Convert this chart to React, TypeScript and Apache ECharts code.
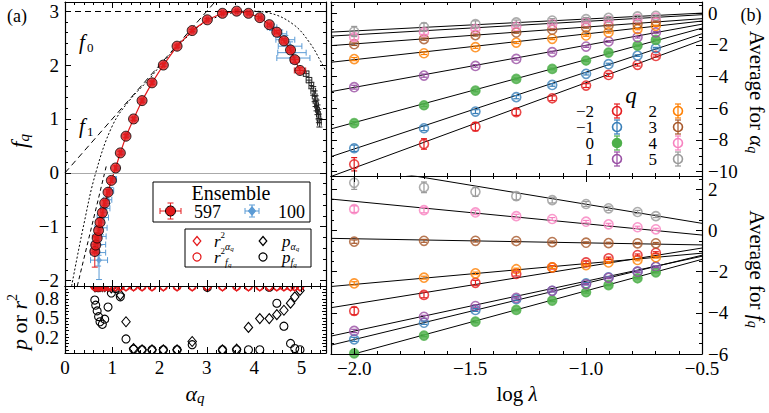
import React, { useEffect, useRef } from 'react';
import * as echarts from 'echarts';

const SERIF = "'Liberation Serif', 'Times New Roman', serif";

// ---------- Panel (a): singularity spectrum f(alpha) ----------
// Ensemble of 597 records
const alpha597 = [0.63, 0.65, 0.68, 0.71, 0.74, 0.79, 0.84, 0.91, 0.98, 1.07, 1.17, 1.29, 1.45, 1.63, 1.84, 2.08, 2.37, 2.69, 3.01, 3.33, 3.63, 3.88, 4.12, 4.32, 4.48, 4.63, 4.77, 4.86, 4.97];
const f597 = [-1.46, -1.34, -1.21, -1.07, -0.92, -0.74, -0.56, -0.36, -0.14, 0.09, 0.37, 0.68, 1.0, 1.34, 1.67, 2.0, 2.35, 2.64, 2.84, 2.96, 3.0, 2.96, 2.88, 2.75, 2.61, 2.45, 2.28, 2.1, 1.9];
const alphaErr597 = [0.04, 0.04, 0.03, 0.03, 0.03, 0.03, 0.03, 0.03, 0.02, 0.02, 0.02, 0.02, 0.02, 0.02, 0.02, 0.02, 0.02, 0.02, 0.02, 0.02, 0.02, 0.03, 0.03, 0.04, 0.05, 0.06, 0.07, 0.09, 0.12];
const fErr597 = [0.29, 0.15, 0.1, 0.08, 0.07, 0.06, 0.05, 0.05, 0.04, 0.04, 0.03, 0.03, 0.03, 0.03, 0.03, 0.03, 0.02, 0.02, 0.02, 0.02, 0.02, 0.02, 0.02, 0.03, 0.03, 0.04, 0.04, 0.05, 0.05];

// Ensemble of 100 records
const alpha100 = [0.72, 0.7, 0.71, 0.73, 0.76, 0.8, 0.85, 0.9, 0.96, 1.03, 1.1, 1.19, 1.31, 1.46, 1.64, 1.85, 2.09, 2.38, 2.7, 3.02, 3.34, 3.64, 3.9, 4.15, 4.38, 4.55, 4.66, 4.76, 4.8, 4.83];
const f100 = [-1.62, -1.48, -1.33, -1.18, -1.02, -0.83, -0.66, -0.5, -0.33, -0.12, 0.08, 0.37, 0.7, 1.0, 1.34, 1.68, 2.01, 2.35, 2.64, 2.84, 2.96, 3.0, 2.96, 2.88, 2.7, 2.58, 2.47, 2.35, 2.23, 2.13];
const alphaErr100 = [0.18, 0.16, 0.15, 0.14, 0.13, 0.12, 0.1, 0.09, 0.07, 0.06, 0.05, 0.04, 0.03, 0.03, 0.02, 0.02, 0.02, 0.02, 0.02, 0.02, 0.02, 0.03, 0.04, 0.06, 0.1, 0.14, 0.2, 0.25, 0.3, 0.35];
const fErr100 = [0.36, 0.25, 0.2, 0.16, 0.13, 0.1, 0.08, 0.07, 0.06, 0.05, 0.04, 0.04, 0.03, 0.03, 0.03, 0.03, 0.03, 0.03, 0.03, 0.03, 0.03, 0.03, 0.04, 0.05, 0.06, 0.07, 0.08, 0.08, 0.09, 0.1];

// Large-q tail of the spectrum
const alphaTail = [5.1, 5.16, 5.21, 5.25, 5.28, 5.3, 5.32, 5.34, 5.36, 5.37, 5.38];
const fTail = [1.84, 1.72, 1.62, 1.52, 1.42, 1.33, 1.25, 1.17, 1.09, 1.01, 0.93];
const alphaErrTail = [0.06, 0.06, 0.05, 0.05, 0.05, 0.05, 0.04, 0.04, 0.04, 0.04, 0.04];
const fErrTail = [0.05, 0.05, 0.06, 0.08, 0.1, 0.1, 0.1, 0.09, 0.09, 0.08, 0.08];

// Reference curves
const f0Level = 3;
const f1Tangent = [[0, 0], [3.3, 3.3]];
const modelSpectrum = [[0.14, -2.1], [0.4, -0.95], [0.65, 0], [1.0, 0.87], [1.36, 1.34], [1.78, 1.74], [2.1, 2.08], [2.5, 2.45], [2.9, 2.76], [3.4, 2.94], [3.9, 3.0], [4.3, 2.97], [4.82, 2.76], [5.17, 2.42], [5.42, 2.05], [5.52, 1.88]];
const steepTangent = [[0.26, -2.1], [0.88, 0.15]];

// Goodness of fit of the scaling regressions (same alpha positions as the 597 ensemble)
const r2Alpha = [0.998, 0.997, 0.998, 0.998, 0.997, 0.998, 0.998, 0.997, 0.998, 0.998, 0.997, 0.998, 0.998, 0.998, 0.998, 0.998, 0.998, 0.998, 0.998, 0.998, 0.998, 0.997, 0.998, 0.998, 0.997, 0.998, 0.997, 0.998, 0.997];
const r2F = [0.995, 0.996, 0.995, 0.996, 0.995, 0.996, 0.995, 0.996, 0.995, 0.996, 0.995, 0.996, 0.995, 0.996, 0.995, 0.996, 0.995, 0.996, 0.995, 0.996, 0.995, 0.996, 0.995, 0.996, 0.995, 0.996, 0.995, 0.996, 0.995];
const pAlpha = [0.99, 0.99, 0.99, 0.99, 0.99, 0.99, 0.99, 0.99, 0.97, 0.99, 0.86, 0.44, 0.02, 0.0, 0.0, 0.0, 0.0, 0.13, 0.99, 0.0, 0.01, 0.35, 0.49, 0.49, 0.55, 0.62, 0.73, 0.83, 0.93];
const pF = [0.78, 0.7, 0.61, 0.52, 0.44, 0.4, 0.48, 0.67, 0.89, 0.96, 0.83, 0.17, 0.01, 0.0, 0.0, 0.0, 0.0, 0.08, 0.98, 0.0, 0.0, 0.0, 0.0, 0.98, 0.73, 0.37, 0.1, 0.02, 0.0];

// ---------- Panel (b): averages versus log lambda ----------
const qValues = [-2, -1, 0, 1, 2, 3, 4, 5];
const qColors = ['#e41a1c', '#377eb8', '#4daf4a', '#984ea3', '#ff7f00', '#a65628', '#f781bf', '#999999'];
const logLambda = [-2.0, -1.699, -1.477, -1.301, -1.146, -1.0, -0.903, -0.778, -0.699];
const fitRange = [-2.1, -0.5];

const alphaAvg = [
  [-9.53, -8.25, -7.16, -6.25, -5.37, -4.57, -3.9, -3.26, -2.7],
  [-8.52, -7.26, -6.21, -5.3, -4.53, -3.83, -3.22, -2.68, -2.21],
  [-6.94, -5.81, -4.89, -4.15, -3.52, -2.99, -2.49, -2.05, -1.69],
  [-4.67, -3.94, -3.33, -2.89, -2.46, -2.11, -1.79, -1.52, -1.22],
  [-2.9, -2.53, -2.15, -1.86, -1.62, -1.41, -1.22, -1.01, -0.8],
  [-1.96, -1.64, -1.39, -1.22, -1.05, -0.91, -0.78, -0.68, -0.55],
  [-1.52, -1.2, -0.99, -0.85, -0.69, -0.57, -0.47, -0.36, -0.28],
  [-1.16, -0.88, -0.69, -0.59, -0.47, -0.38, -0.3, -0.21, -0.17],
];
const alphaAvgErr = [
  [0.42, 0.33, 0.26, 0.2, 0.15, 0.12, 0.1, 0.08, 0.07],
  [0.2, 0.15, 0.12, 0.1, 0.08, 0.07, 0.06, 0.05, 0.05],
  [0.1, 0.08, 0.07, 0.06, 0.05, 0.05, 0.04, 0.04, 0.04],
  [0.12, 0.1, 0.08, 0.07, 0.06, 0.05, 0.05, 0.05, 0.05],
  [0.1, 0.08, 0.07, 0.06, 0.05, 0.05, 0.04, 0.04, 0.04],
  [0.08, 0.07, 0.06, 0.05, 0.05, 0.04, 0.04, 0.04, 0.04],
  [0.18, 0.14, 0.1, 0.08, 0.07, 0.06, 0.05, 0.05, 0.05],
  [0.32, 0.25, 0.2, 0.15, 0.12, 0.1, 0.08, 0.06, 0.05],
];
// regression line values at the two ends of fitRange
const alphaFitEnds = [
  [-10.3, -1.7], [-9.05, -1.3], [-7.3, -0.95], [-4.95, -0.7],
  [-3.1, -0.5], [-2.05, -0.35], [-1.45, -0.1], [-1.2, 0.0],
];

const fAvg = [
  [-3.91, -3.13, -2.54, -2.11, -1.79, -1.55, -1.35, -1.19, -1.08],
  [-5.29, -4.48, -3.86, -3.33, -2.93, -2.57, -2.27, -2.0, -1.76],
  [-5.97, -5.11, -4.43, -3.86, -3.41, -3.0, -2.65, -2.32, -2.03],
  [-4.88, -4.19, -3.67, -3.27, -2.93, -2.61, -2.3, -2.0, -1.76],
  [-2.57, -2.29, -2.08, -1.88, -1.79, -1.68, -1.55, -1.43, -1.3],
  [-0.54, -0.5, -0.5, -0.51, -0.56, -0.59, -0.61, -0.62, -0.62],
  [1.04, 0.99, 0.88, 0.7, 0.56, 0.43, 0.3, 0.16, 0.06],
  [2.32, 2.1, 1.88, 1.67, 1.48, 1.29, 1.08, 0.9, 0.7],
];
const fAvgErr = [
  [0.18, 0.14, 0.12, 0.1, 0.08, 0.07, 0.06, 0.05, 0.05],
  [0.1, 0.08, 0.07, 0.06, 0.05, 0.05, 0.04, 0.04, 0.04],
  [0.06, 0.05, 0.05, 0.04, 0.04, 0.04, 0.03, 0.03, 0.03],
  [0.08, 0.07, 0.06, 0.05, 0.05, 0.04, 0.04, 0.04, 0.04],
  [0.08, 0.07, 0.06, 0.05, 0.05, 0.04, 0.04, 0.04, 0.04],
  [0.08, 0.07, 0.06, 0.05, 0.05, 0.04, 0.04, 0.04, 0.04],
  [0.16, 0.13, 0.11, 0.09, 0.07, 0.06, 0.05, 0.05, 0.05],
  [0.32, 0.26, 0.22, 0.18, 0.14, 0.12, 0.1, 0.08, 0.07],
];
const fFitEnds = [
  [-3.75, -0.85], [-5.57, -1.2], [-6.3, -1.4], [-5.13, -1.25],
  [-2.72, -1.1], [-0.38, -0.7], [1.53, -0.22], [3.32, 0.35],
];

// ---------- helpers ----------
const RED = '#e41a1c';
const BLUE = '#5b9bd5';

type AxisSpec = { min: number; max: number; major: number; minor: number; dec: number; labels?: number[]; tick?: number };

const fmtNum = (v: number, dec: number) => (v < -1e-9 ? '\u2212' : '') + Math.abs(v).toFixed(dec);
const onStep = (v: number, step: number) => Math.abs(v / step - Math.round(v / step)) < 1e-6;

function axisSet(grid: number, a: AxisSpec, sides: string[], labelSide: string | null, margin: number) {
  const out: any[] = [];
  for (const pos of sides) {
    const common = {
      type: 'value', gridIndex: grid, position: pos, min: a.min, max: a.max,
      splitNumber: 5, splitLine: { show: false }, silent: true, z: 10,
    };
    out.push({
      ...common, minInterval: a.major, maxInterval: a.major,
      axisLine: { show: true, onZero: false, lineStyle: { color: '#000', width: 1.2 } },
      axisTick: { show: true, inside: true, length: a.tick ?? 6, lineStyle: { color: '#000', width: 1 } },
      axisLabel: pos === labelSide
        ? {
            show: true, margin, color: '#000', fontSize: 19, fontFamily: SERIF,
            formatter: (v: number) => {
              if (!onStep(v, a.major)) return '';
              if (a.labels && !a.labels.some((l) => Math.abs(l - v) < 1e-6)) return '';
              return fmtNum(v, a.dec);
            },
          }
        : { show: false },
    });
    out.push({
      ...common, minInterval: a.minor, maxInterval: a.minor,
      axisLine: { show: false, onZero: false },
      axisTick: { show: true, inside: true, length: 3, lineStyle: { color: '#000', width: 1 } },
      axisLabel: { show: false },
    });
  }
  return out;
}

const pairs = (xs: number[], ys: number[]) => xs.map((x, i) => [x, ys[i]]);
const withErr = (xs: number[], ys: number[], ex: number[] | null, ey: number[] | null) =>
  xs.map((x, i) => [x, ys[i], ex ? ex[i] : 0, ey ? ey[i] : 0]);

function errorBars(data: number[][], color: string, axis: number, z = 3, cap = 3, lw = 1) {
  return {
    type: 'custom', xAxisIndex: axis, yAxisIndex: axis, clip: true, silent: true, z,
    data, encode: { x: 0, y: 1 },
    renderItem: (_p: any, api: any) => {
      const x = api.value(0), y = api.value(1), ex = api.value(2), ey = api.value(3);
      const c = api.coord([x, y]);
      const seg = (x1: number, y1: number, x2: number, y2: number) => ({
        type: 'line', shape: { x1, y1, x2, y2 }, style: { stroke: color, lineWidth: lw },
      });
      const kids: any[] = [];
      if (ex > 0) {
        const l = api.coord([x - ex, y])[0], r = api.coord([x + ex, y])[0];
        kids.push(seg(l, c[1], r, c[1]), seg(l, c[1] - cap, l, c[1] + cap), seg(r, c[1] - cap, r, c[1] + cap));
      }
      if (ey > 0) {
        const t = api.coord([x, y + ey])[1], b = api.coord([x, y - ey])[1];
        kids.push(seg(c[0], t, c[0], b), seg(c[0] - cap, t, c[0] + cap, t), seg(c[0] - cap, b, c[0] + cap, b));
      }
      return { type: 'group', children: kids };
    },
  };
}

// open markers drawn as shapes so that the panel border clips them
function openMarkers(xs: number[], ys: number[], shape: 'circle' | 'diamond', color: string, axis: number, z = 4) {
  return {
    type: 'custom', xAxisIndex: axis, yAxisIndex: axis, clip: true, silent: true, z,
    data: pairs(xs, ys), encode: { x: 0, y: 1 },
    renderItem: (_p: any, api: any) => {
      const c = api.coord([api.value(0), api.value(1)]);
      const style = { fill: 'rgba(0,0,0,0)', stroke: color, lineWidth: 1.1 };
      if (shape === 'circle') return { type: 'circle', shape: { cx: c[0], cy: c[1], r: 4 }, style };
      return {
        type: 'polygon', style,
        shape: { points: [[c[0], c[1] - 5], [c[0] + 4.2, c[1]], [c[0], c[1] + 5], [c[0] - 4.2, c[1]]] },
      };
    },
  };
}

let measureCtx: CanvasRenderingContext2D | null = null;
function textWidth(t: string, size: number, italic?: boolean) {
  if (!measureCtx) measureCtx = document.createElement('canvas').getContext('2d');
  if (!measureCtx) return t.length * size * 0.5;
  measureCtx.font = `${italic ? 'italic ' : ''}${size}px ${SERIF}`;
  return measureCtx.measureText(t).width;
}

type Run = { t: string; size: number; it?: boolean; dy?: number; gap?: number };
function mathText(runs: Run[], x: number, y: number, rotation = 0, align: 'left' | 'center' = 'center') {
  const ws = runs.map((r) => textWidth(r.t, r.size, r.it));
  const total = ws.reduce((s, w, i) => s + w + (runs[i].gap || 0), 0);
  let cx = align === 'left' ? 0 : -total / 2;
  const children = runs.map((r, i) => {
    cx += r.gap || 0;
    const el = {
      type: 'text', x: cx, y: r.dy || 0, z: 100,
      style: {
        text: r.t, fontSize: r.size, fontFamily: SERIF, fontStyle: r.it ? 'italic' : 'normal', fill: '#000',
        align: 'left', verticalAlign: 'middle', textAlign: 'left', textVerticalAlign: 'middle',
      },
    };
    cx += ws[i];
    return el;
  });
  return { type: 'group', x, y, rotation, z: 100, children };
}

const plainText = (t: string, x: number, y: number, size: number, align = 'left', italic = false) => ({
  type: 'text', x, y, z: 100,
  style: {
    text: t, fontSize: size, fontFamily: SERIF, fontStyle: italic ? 'italic' : 'normal', fill: '#000',
    align, verticalAlign: 'middle', textAlign: align, textVerticalAlign: 'middle',
  },
});

const gLine = (x1: number, y1: number, x2: number, y2: number, stroke: string, lw = 1) => ({
  type: 'line', z: 101, shape: { x1, y1, x2, y2 }, style: { stroke, lineWidth: lw },
});
const gDiamond = (x: number, y: number, r: number, stroke: string, fill: string) => ({
  type: 'polygon', z: 102, shape: { points: [[x, y - r], [x + r * 0.85, y], [x, y + r], [x - r * 0.85, y]] },
  style: { stroke, fill, lineWidth: 1.2 },
});
const gCircle = (x: number, y: number, r: number, stroke: string, fill: string, lw = 1.2) => ({
  type: 'circle', z: 102, shape: { cx: x, cy: y, r }, style: { stroke, fill, lineWidth: lw },
});
const gCross = (x: number, y: number, hx: number, hy: number, color: string, cap = 3) => [
  gLine(x - hx, y, x + hx, y, color), gLine(x - hx, y - cap, x - hx, y + cap, color), gLine(x + hx, y - cap, x + hx, y + cap, color),
  gLine(x, y - hy, x, y + hy, color), gLine(x - cap, y - hy, x + cap, y - hy, color), gLine(x - cap, y + hy, x + cap, y + hy, color),
];

function buildOption() {
  const leftX: AxisSpec = { min: 0, max: 5.52, major: 1, minor: 0.2, dec: 0 };
  const leftTopY: AxisSpec = { min: -2.1, max: 3.17, major: 1, minor: 0.2, dec: 0 };
  const leftBotY: AxisSpec = { min: -0.05, max: 1.0, major: 0.1, minor: 0.05, dec: 1, labels: [0.2, 0.5, 0.8], tick: 4 };
  const rightX: AxisSpec = { min: -2.1, max: -0.5, major: 0.5, minor: 0.1, dec: 1 };
  const rightTopY: AxisSpec = { min: -10.27, max: 0.7, major: 2, minor: 0.5, dec: 0 };
  const rightBotY: AxisSpec = { min: -6, max: 2.65, major: 2, minor: 0.5, dec: 0 };

  const xAxis = [
    ...axisSet(0, leftX, ['bottom', 'top'], null, 5),
    ...axisSet(1, leftX, ['bottom', 'top'], 'bottom', 5),
    ...axisSet(2, rightX, ['bottom', 'top'], null, 5),
    ...axisSet(3, rightX, ['bottom', 'top'], 'bottom', 5),
  ];
  const yAxis = [
    ...axisSet(0, leftTopY, ['left', 'right'], 'left', 6),
    ...axisSet(1, leftBotY, ['left', 'right'], 'left', 6),
    ...axisSet(2, rightTopY, ['left', 'right'], 'right', 6),
    ...axisSet(3, rightBotY, ['left', 'right'], 'right', 6),
  ];

  const A = 0, B = 4, C = 8, D = 12; // first axis index of each grid
  const series: any[] = [];

  // panel (a) top: reference curves
  series.push({
    type: 'line', xAxisIndex: A, yAxisIndex: A, data: modelSpectrum, smooth: 0.4, symbol: 'none', silent: true, z: 1,
    lineStyle: { color: '#000', width: 1, type: [2, 2] },
    markLine: {
      silent: true, symbol: 'none', label: { show: false }, animation: false,
      data: [
        { yAxis: 0, lineStyle: { color: '#aaaaaa', width: 1, type: 'solid' } },
        { yAxis: f0Level, lineStyle: { color: '#000', width: 1, type: [6, 4] } },
      ],
    },
  });
  series.push({
    type: 'line', xAxisIndex: A, yAxisIndex: A, data: f1Tangent, symbol: 'none', silent: true, z: 1,
    lineStyle: { color: '#000', width: 1, type: [6, 4] },
  });
  series.push({
    type: 'line', xAxisIndex: A, yAxisIndex: A, data: steepTangent, symbol: 'none', silent: true, z: 1,
    lineStyle: { color: '#000', width: 1, type: [4, 3] },
  });

  // tail points
  series.push(errorBars(withErr(alphaTail, fTail, alphaErrTail, fErrTail), '#222', A, 2));

  // ensemble of 100
  series.push(errorBars(withErr(alpha100, f100, alphaErr100, fErr100), BLUE, A, 3));
  series.push({
    type: 'scatter', xAxisIndex: A, yAxisIndex: A, data: pairs(alpha100, f100), symbol: 'diamond', symbolSize: [6, 7],
    itemStyle: { color: BLUE }, silent: true, z: 3, clip: true,
  });

  // ensemble of 597
  series.push(errorBars(withErr(alpha597, f597, alphaErr597, fErr597), RED, A, 4));
  series.push({
    type: 'line', xAxisIndex: A, yAxisIndex: A, data: pairs(alpha597, f597), symbol: 'none', silent: true, z: 4,
    lineStyle: { color: RED, width: 1.2 },
  });
  series.push({
    type: 'scatter', xAxisIndex: A, yAxisIndex: A, data: pairs(alpha597, f597), symbol: 'circle', symbolSize: 10,
    itemStyle: { color: RED, borderColor: '#000', borderWidth: 1 }, silent: true, z: 5, clip: true,
  });

  // panel (a) bottom: p-values and r^2
  series.push(openMarkers(alpha597, pAlpha, 'diamond', '#000', B, 4));
  series.push(openMarkers(alpha597, pF, 'circle', '#000', B, 4));
  series.push(openMarkers(alpha597, r2Alpha, 'diamond', RED, B, 5));
  series.push(openMarkers(alpha597, r2F, 'circle', RED, B, 5));

  // panel (b)
  qValues.forEach((_q, i) => {
    const col = qColors[i];
    const filled = i === 2;
    const panels = [
      { ax: C, avg: alphaAvg[i], err: alphaAvgErr[i], ends: alphaFitEnds[i] },
      { ax: D, avg: fAvg[i], err: fAvgErr[i], ends: fFitEnds[i] },
    ];
    panels.forEach((p) => {
      series.push({
        type: 'line', xAxisIndex: p.ax, yAxisIndex: p.ax, symbol: 'none', silent: true, z: 2,
        data: [[fitRange[0], p.ends[0]], [fitRange[1], p.ends[1]]],
        lineStyle: { color: '#000', width: 1 },
      });
      series.push(errorBars(withErr(logLambda, p.avg, null, p.err), col, p.ax, 4, 3, 1.2));
      series.push({
        type: 'scatter', xAxisIndex: p.ax, yAxisIndex: p.ax, data: pairs(logLambda, p.avg), symbol: 'circle', symbolSize: 9,
        itemStyle: { color: filled ? col : 'rgba(255,255,255,0)', borderColor: col, borderWidth: 1.6 }, silent: true, clip: true, z: 3,
      });
    });
  });

  // annotations and legends
  const graphic: any[] = [];
  graphic.push(plainText('(a)', 7, 16, 18));
  graphic.push(plainText('(b)', 751, 15, 18, 'center'));
  graphic.push(plainText('f', 79, 42, 21, 'left', true), plainText('0', 87, 47, 13));
  graphic.push(plainText('f', 79, 126, 21, 'left', true), plainText('1', 87, 131, 13));

  graphic.push(mathText([{ t: 'f', size: 23, it: true }, { t: 'q', size: 15, it: true, dy: 5 }], 19, 141, Math.PI / 2));
  graphic.push(mathText([{ t: 'p', size: 22, it: true }, { t: ' or ', size: 22 }, { t: 'r', size: 22, it: true }, { t: '2', size: 14, dy: -7 }], 19, 322, Math.PI / 2));
  graphic.push(mathText([{ t: '\u03b1', size: 22, it: true }, { t: 'q', size: 15, it: true, dy: 5 }], 195, 393));
  graphic.push(mathText([{ t: 'log ', size: 21 }, { t: '\u03bb', size: 21, it: true }], 517, 394));
  graphic.push(mathText([{ t: 'Average for ', size: 21 }, { t: '\u03b1', size: 21, it: true }, { t: 'q', size: 14, it: true, dy: 5 }], 757, 92, -Math.PI / 2));
  graphic.push(mathText([{ t: 'Average for ', size: 21 }, { t: 'f', size: 21, it: true }, { t: 'q', size: 14, it: true, dy: 5 }], 757, 269, -Math.PI / 2));

  // ensemble legend
  graphic.push({ type: 'rect', z: 100, shape: { x: 153, y: 182, width: 157, height: 40 }, style: { fill: '#fff', stroke: '#000', lineWidth: 1 } });
  graphic.push(plainText('Ensemble', 231, 193, 20, 'center'));
  graphic.push(...gCross(170.5, 211, 10.5, 8, RED));
  graphic.push(gCircle(170.5, 211, 5, '#000', RED, 1));
  graphic.push(plainText('597', 194, 212, 18));
  graphic.push(...gCross(252, 211, 7, 6, BLUE));
  graphic.push(gDiamond(252, 211, 4, BLUE, BLUE));
  graphic.push(plainText('100', 278, 212, 18));

  // fit-quality legend
  graphic.push({ type: 'rect', z: 100, shape: { x: 185, y: 229, width: 126, height: 38 }, style: { fill: '#fff', stroke: '#000', lineWidth: 1 } });
  const rowA = 241, rowB = 257;
  graphic.push(gDiamond(197, rowA, 4.5, RED, '#fff'));
  graphic.push(gCircle(197, rowB, 4, RED, '#fff'));
  graphic.push(gDiamond(263, rowA, 4.5, '#000', '#fff'));
  graphic.push(gCircle(263, rowB, 4, '#000', '#fff'));
  graphic.push(mathText([{ t: 'r', size: 17, it: true }, { t: '2', size: 9, dy: -6 }, { t: '\u03b1', size: 10, it: true, dy: 5 }, { t: 'q', size: 7, it: true, dy: 8 }], 214, rowA, 0, 'left'));
  graphic.push(mathText([{ t: 'r', size: 17, it: true }, { t: '2', size: 9, dy: -6 }, { t: 'f', size: 10, it: true, dy: 5 }, { t: 'q', size: 7, it: true, dy: 8 }], 214, rowB, 0, 'left'));
  graphic.push(mathText([{ t: 'p', size: 17, it: true }, { t: '\u03b1', size: 10, it: true, dy: 5 }, { t: 'q', size: 7, it: true, dy: 8 }], 282, rowA, 0, 'left'));
  graphic.push(mathText([{ t: 'p', size: 17, it: true }, { t: 'f', size: 10, it: true, dy: 5 }, { t: 'q', size: 7, it: true, dy: 8 }], 282, rowB, 0, 'left'));

  // q legend
  graphic.push(plainText('q', 631, 95, 23, 'center', true));
  const rowsY = [111, 127, 143, 159];
  qValues.forEach((q, i) => {
    const colIdx = i < 4 ? 0 : 1;
    const y = rowsY[i % 4];
    const labelX = colIdx === 0 ? 594 : 657;
    const markX = colIdx === 0 ? 617 : 678;
    const col = qColors[i];
    graphic.push(plainText(fmtNum(q, 0), labelX, y, 17, 'right'));
    graphic.push(gLine(markX, y - 7, markX, y + 7, col, 1.2), gLine(markX - 3, y - 7, markX + 3, y - 7, col, 1.2), gLine(markX - 3, y + 7, markX + 3, y + 7, col, 1.2));
    graphic.push(gCircle(markX, y, 4.5, col, i === 2 ? col : 'rgba(255,255,255,0)', 1.6));
  });

  return {
    animation: false,
    backgroundColor: '#fff',
    grid: [
      { left: 65, top: 2, width: 261, height: 284 },
      { left: 65, top: 286, width: 261, height: 67 },
      { left: 331, top: 2, width: 371, height: 174 },
      { left: 331, top: 176, width: 371, height: 178 },
    ],
    xAxis,
    yAxis,
    series,
    graphic: { elements: graphic },
  };
}

export default function App() {
  const ref = useRef<HTMLDivElement>(null);
  useEffect(() => {
    const el = ref.current;
    if (!el) return;
    const chart = echarts.init(el, undefined, { renderer: 'svg', width: 769, height: 413 });
    chart.setOption(buildOption() as any);
    return () => chart.dispose();
  }, []);
  return (
    <div
      ref={ref}
      style={{ position: 'absolute', left: 0, top: 0, width: 769, height: 413, background: '#fff' }}
    />
  );
}
